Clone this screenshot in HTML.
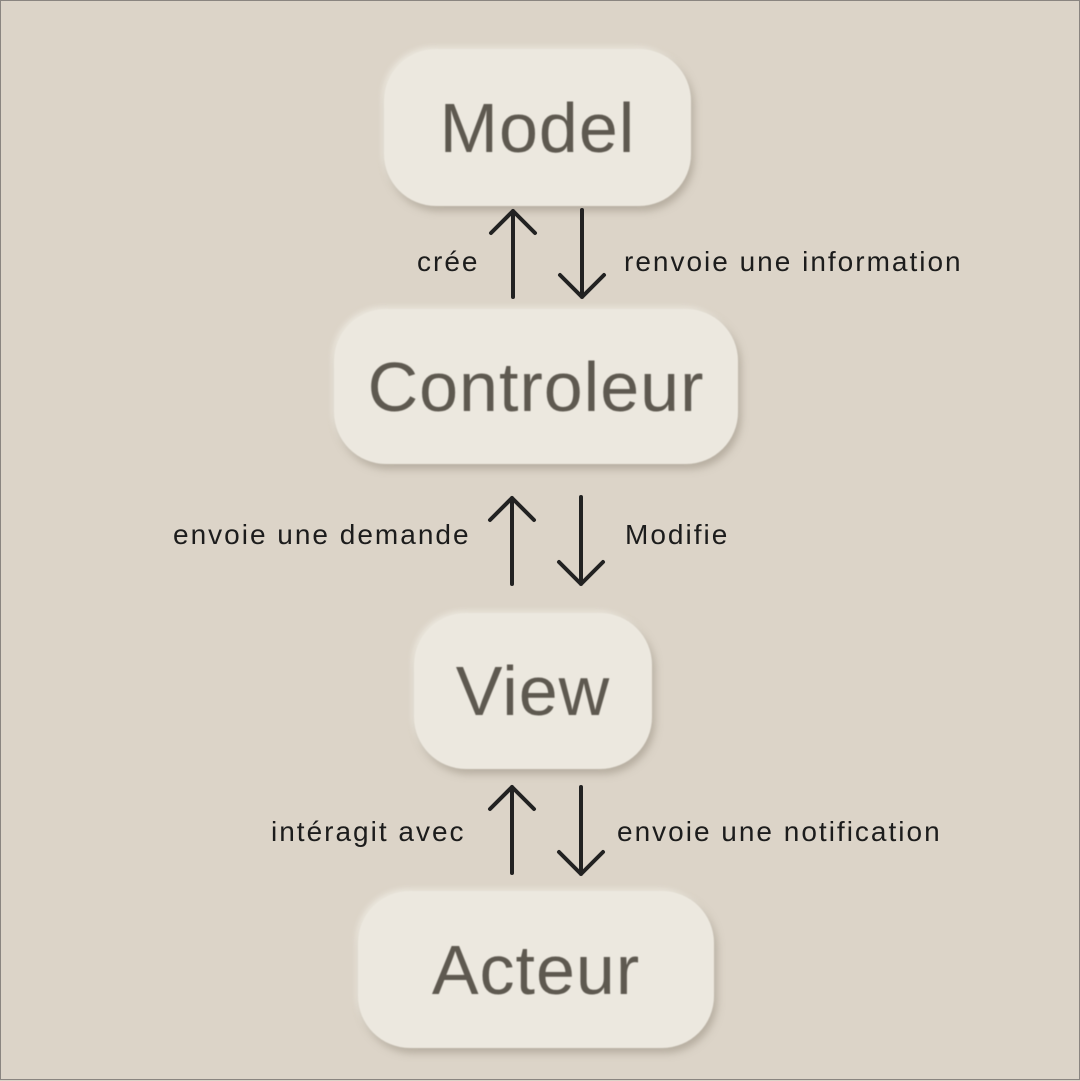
<!DOCTYPE html>
<html><head><meta charset="utf-8"><style>
html,body{margin:0;padding:0}
body{width:1080px;height:1080px;background:#dcd4c8;position:relative;overflow:hidden;font-family:"Liberation Sans","DejaVu Sans",sans-serif;box-sizing:border-box;border:1px solid #8a8580}
.box{position:absolute;background:#ece8df;border-radius:52px;box-shadow:3px 5px 8px rgba(150,140,125,.55),-2px -2px 6px rgba(255,255,250,.5);display:flex;align-items:center;justify-content:center;color:#5e5950;font-size:70px;letter-spacing:1px;filter:blur(.4px)}
.lbl{position:absolute;font-size:28px;color:#1c1c1c;line-height:1;letter-spacing:2px}
svg{position:absolute;left:0;top:0}
</style></head><body>
<div class="box" style="left:383px;top:48px;width:307px;height:157px">Model</div>
<div class="box" style="left:333px;top:308px;width:404px;height:155px">Controleur</div>
<div class="box" style="left:413px;top:612px;width:238px;height:156px">View</div>
<div class="box" style="left:357px;top:890px;width:356px;height:157px">Acteur</div>
<div class="lbl" style="left:416px;top:247px">crée</div>
<div class="lbl" style="left:623px;top:247px">renvoie une information</div>
<div class="lbl" style="left:172px;top:520px">envoie une demande</div>
<div class="lbl" style="left:624px;top:520px">Modifie</div>
<div class="lbl" style="left:270px;top:817px">intéragit avec</div>
<div class="lbl" style="left:616px;top:817px">envoie une notification</div>
<svg width="1080" height="1080" stroke="#222" stroke-width="4" fill="none" stroke-linecap="round" stroke-linejoin="round">
<path d="M512 296V210M490 232L512 210L534 232"/>
<path d="M581 209V296M559 274L581 296L603 274"/>
<path d="M511 583V497M489 519L511 497L533 519"/>
<path d="M580 496V583M558 561L580 583L602 561"/>
<path d="M511 872V786M489 808L511 786L533 808"/>
<path d="M580 786V873M558 851L580 873L602 851"/>
</svg>
</body></html>
